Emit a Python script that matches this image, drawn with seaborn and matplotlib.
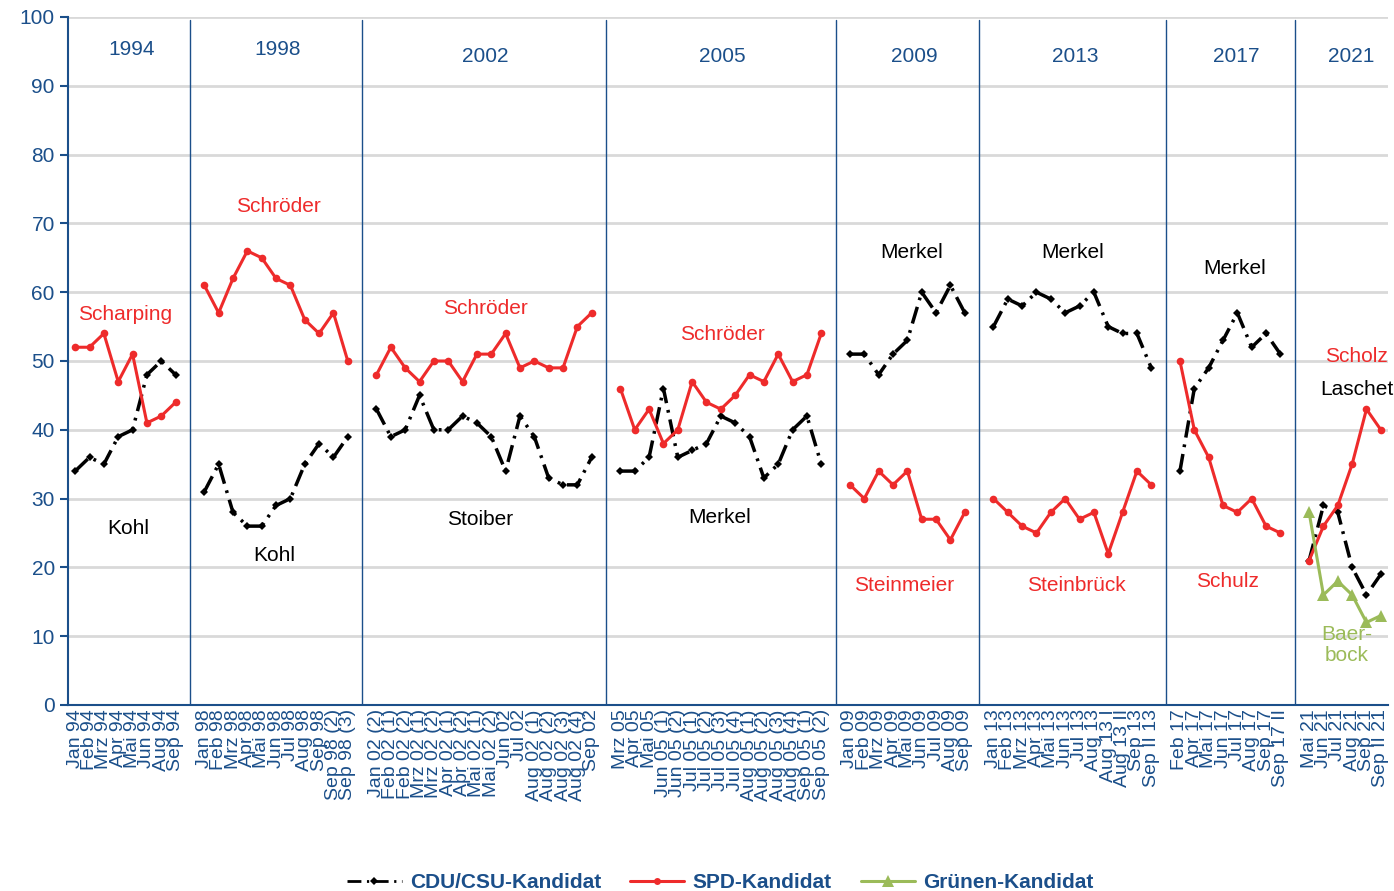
import numpy as np
import pandas as pd
import seaborn as sns
import matplotlib.pyplot as plt
from matplotlib.lines import Line2D

# Candidate approval ratings by election year (values in %)
years = ["1994", "1998", "2002", "2005", "2009", "2013", "2017", "2021"]

labels_1994 = ["Jan 94", "Feb 94", "Mrz 94", "Apr 94", "Mai 94", "Jun 94", "Aug 94", "Sep 94"]
labels_1998 = ["Jan 98", "Feb 98", "Mrz 98", "Apr 98", "Mai 98", "Jun 98", "Jul 98", "Aug 98",
               "Sep 98", "Sep 98 (2)", "Sep 98 (3)"]
labels_2002 = ["Jan 02 (2)", "Feb 02 (1)", "Feb 02 (2)", "Mrz 02 (1)", "Mrz 02 (2)", "Apr 02 (1)",
               "Apr 02 (2)", "Mai 02 (1)", "Mai 02 (2)", "Jun 02", "Jul 02", "Aug 02 (1)",
               "Aug 02 (2)", "Aug 02 (3)", "Aug 02 (4)", "Sep 02"]
labels_2005 = ["Mrz 05", "Apr 05", "Mai 05", "Jun 05 (1)", "Jun 05 (2)", "Jul 05 (1)", "Jul 05 (2)",
               "Jul 05 (3)", "Jul 05 (4)", "Aug 05 (1)", "Aug 05 (2)", "Aug 05 (3)", "Aug 05 (4)",
               "Sep 05 (1)", "Sep 05 (2)"]
labels_2009 = ["Jan 09", "Feb 09", "Mrz 09", "Apr 09", "Mai 09", "Jun 09", "Jul 09", "Aug 09", "Sep 09"]
labels_2013 = ["Jan 13", "Feb 13", "Mrz 13", "Apr 13", "Mai 13", "Jun 13", "Jul 13", "Aug 13",
               "Aug 13 I", "Aug 13 II", "Sep 13", "Sep II 13"]
labels_2017 = ["Feb 17", "Apr 17", "Mai 17", "Jun 17", "Jul 17", "Aug 17", "Sep 17", "Sep 17 II"]
labels_2021 = ["Mai 21", "Jun 21", "Jul 21", "Aug 21", "Sep 21", "Sep II 21"]

cdu_1994 = [34, 36, 35, 39, 40, 48, 50, 48]
cdu_1998 = [31, 35, 28, 26, 26, 29, 30, 35, 38, 36, 39]
cdu_2002 = [43, 39, 40, 45, 40, 40, 42, 41, 39, 34, 42, 39, 33, 32, 32, 36]
cdu_2005 = [34, 34, 36, 46, 36, 37, 38, 42, 41, 39, 33, 35, 40, 42, 35]
cdu_2009 = [51, 51, 48, 51, 53, 60, 57, 61, 57]
cdu_2013 = [55, 59, 58, 60, 59, 57, 58, 60, 55, 54, 54, 49]
cdu_2017 = [34, 46, 49, 53, 57, 52, 54, 51]
cdu_2021 = [21, 29, 28, 20, 16, 19]

spd_1994 = [52, 52, 54, 47, 51, 41, 42, 44]
spd_1998 = [61, 57, 62, 66, 65, 62, 61, 56, 54, 57, 50]
spd_2002 = [48, 52, 49, 47, 50, 50, 47, 51, 51, 54, 49, 50, 49, 49, 55, 57]
spd_2005 = [46, 40, 43, 38, 40, 47, 44, 43, 45, 48, 47, 51, 47, 48, 54]
spd_2009 = [32, 30, 34, 32, 34, 27, 27, 24, 28]
spd_2013 = [30, 28, 26, 25, 28, 30, 27, 28, 22, 28, 34, 32]
spd_2017 = [50, 40, 36, 29, 28, 30, 26, 25]
spd_2021 = [21, 26, 29, 35, 43, 40]

gruene_2021 = [28, 16, 18, 16, 12, 13]

all_labels = [labels_1994, labels_1998, labels_2002, labels_2005,
              labels_2009, labels_2013, labels_2017, labels_2021]
all_cdu = [cdu_1994, cdu_1998, cdu_2002, cdu_2005, cdu_2009, cdu_2013, cdu_2017, cdu_2021]
all_spd = [spd_1994, spd_1998, spd_2002, spd_2005, spd_2009, spd_2013, spd_2017, spd_2021]
all_gruene = {"2021": gruene_2021}

# build long table; one empty category between election years
rows = []
tick_pos, tick_lab, gaps = [], [], []
pos = 0
for k, year in enumerate(years):
    for i, lab in enumerate(all_labels[k]):
        tick_pos.append(pos)
        tick_lab.append(lab)
        rows.append((pos, all_cdu[k][i], "CDU/CSU-Kandidat", year))
        rows.append((pos, all_spd[k][i], "SPD-Kandidat", year))
        if year in all_gruene:
            rows.append((pos, all_gruene[year][i], "Grünen-Kandidat", year))
        pos += 1
    if k < len(years) - 1:
        gaps.append(pos)
        pos += 1
n_slots = pos
df = pd.DataFrame(rows, columns=["pos", "value", "series", "group"])

blue = "#1b4f8a"
red = "#ee2b2b"
green = "#9bbb59"
cdu_ls = (0, (5, 2, 0.8, 2))

sns.set_theme(style="white")
plt.rcParams["font.family"] = ["Liberation Sans", "DejaVu Sans"]

fig = plt.figure(figsize=(13.94, 8.91), dpi=100)
ax = fig.add_axes([68 / 1394, 1 - 705 / 891, 1320 / 1394, 688 / 891])

sns.lineplot(data=df[df.series == "CDU/CSU-Kandidat"], x="pos", y="value", units="group",
             estimator=None, color="black", linewidth=2.5, linestyle=cdu_ls,
             marker="D", markersize=4.5, markeredgewidth=0, ax=ax, legend=False)
sns.lineplot(data=df[df.series == "SPD-Kandidat"], x="pos", y="value", units="group",
             estimator=None, color=red, linewidth=2.2,
             marker="o", markersize=5.5, markeredgewidth=0, ax=ax, legend=False)
sns.lineplot(data=df[df.series == "Grünen-Kandidat"], x="pos", y="value", units="group",
             estimator=None, color=green, linewidth=2.2,
             marker="^", markersize=9, markeredgewidth=0, ax=ax, legend=False)

# year separators
for g in gaps:
    ax.axvline(g, ymax=0.996, color=blue, lw=1, zorder=1)

ax.set_xlim(-0.5, n_slots - 0.5)
ax.set_ylim(0, 100)
ax.set_yticks(range(0, 101, 10))
ax.yaxis.grid(True, color="#d9d9d9", lw=2)
ax.xaxis.grid(False)
ax.set_axisbelow(True)
ax.set_xlabel("")
ax.set_ylabel("")

ax.set_xticks(tick_pos)
ax.set_xticklabels(tick_lab, rotation=90, fontsize=14, color=blue, va="top", ha="center")
ax.set_xticks(np.arange(-0.5, n_slots, 1), minor=True)
ax.tick_params(axis="x", which="major", length=0, pad=3)
ax.tick_params(axis="x", which="minor", length=5, width=1.5, color=blue, direction="out")
ax.tick_params(axis="y", length=6, width=1.5, color=blue, labelcolor=blue, labelsize=15,
               direction="out", left=True)

for s in ["top", "right"]:
    ax.spines[s].set_visible(False)
for s in ["left", "bottom"]:
    ax.spines[s].set_color(blue)
    ax.spines[s].set_linewidth(1.5)

# year headings
year_x = [3.9, 14.1, 28.6, 45.1, 58.5, 69.7, 80.9, 88.9]
year_y = [95.3, 95.3, 94.3, 94.3, 94.3, 94.3, 94.3, 94.3]
for yr, xx, yy in zip(years, year_x, year_y):
    ax.text(xx, yy, yr, color=blue, fontsize=15, ha="center", va="center")

# candidate names
names = [
    ("Scharping", 3.5, 56.7, red), ("Kohl", 3.7, 25.7, "black"),
    ("Schröder", 14.2, 72.4, red), ("Kohl", 13.9, 21.7, "black"),
    ("Schröder", 28.6, 57.6, red), ("Stoiber", 28.2, 27.0, "black"),
    ("Schröder", 45.1, 53.8, red), ("Merkel", 44.9, 27.3, "black"),
    ("Merkel", 58.3, 65.8, "black"), ("Steinmeier", 57.8, 17.3, red),
    ("Merkel", 69.5, 65.8, "black"), ("Steinbrück", 69.8, 17.4, red),
    ("Merkel", 80.8, 63.4, "black"), ("Schulz", 80.3, 18.0, red),
    ("Scholz", 89.3, 50.6, red), ("Laschet", 89.3, 45.9, "black"),
    ("Baer-\nbock", 88.6, 8.7, green),
]
for txt, xx, yy, c in names:
    ax.text(xx, yy, txt, color=c, fontsize=15, ha="center", va="center", linespacing=1.1)

handles = [
    Line2D([], [], color="black", lw=2, linestyle=cdu_ls, marker="D", markersize=4,
           markeredgewidth=0),
    Line2D([], [], color=red, lw=2.2, marker="o", markersize=5, markeredgewidth=0),
    Line2D([], [], color=green, lw=2.2, marker="^", markersize=9, markeredgewidth=0),
]
leg = fig.legend(handles, ["CDU/CSU-Kandidat", "SPD-Kandidat", "Grünen-Kandidat"],
                 loc="lower center", bbox_to_anchor=(0.517, -0.022), ncol=3, frameon=False,
                 handlelength=2.6, columnspacing=1.4, handletextpad=0.4,
                 prop={"weight": "bold", "size": 15})
for t in leg.get_texts():
    t.set_color(blue)

fig.savefig("out.png", dpi=100)
